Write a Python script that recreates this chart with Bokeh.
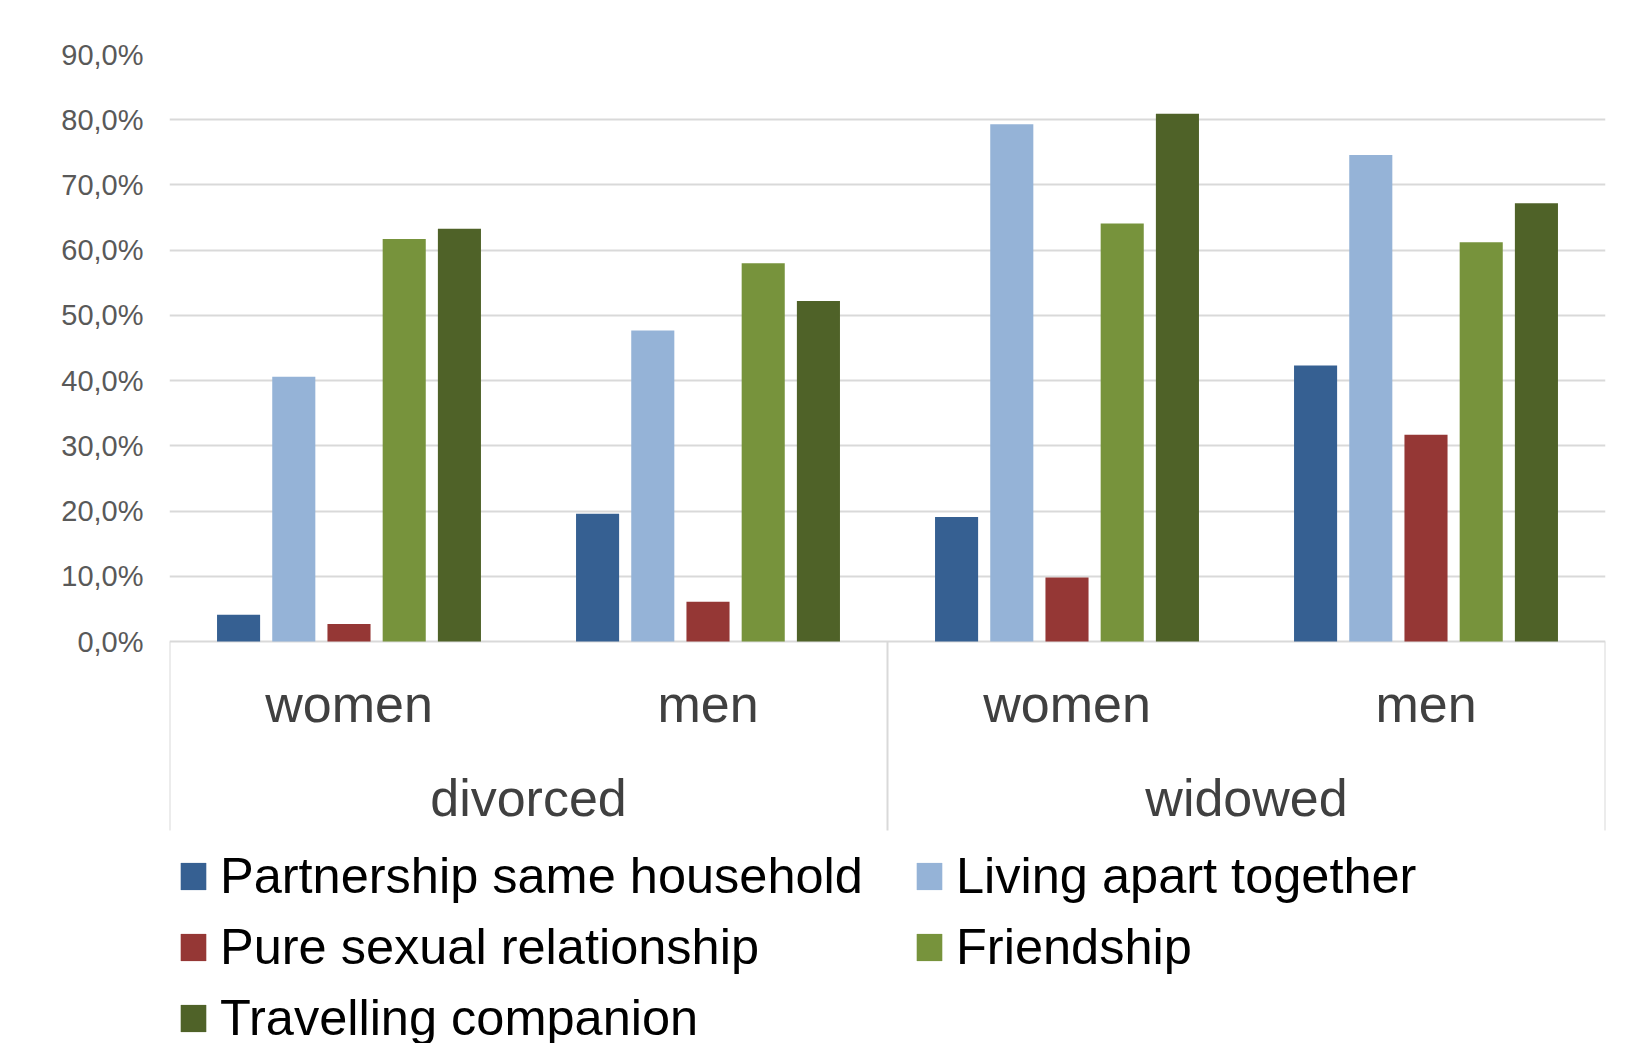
from bokeh.plotting import figure
from bokeh.models import ColumnDataSource, FactorRange, Range1d, FixedTicker, Legend, LegendItem
from bokeh.transform import dodge
from bokeh.core.properties import value
from bokeh.embed import file_html
from bokeh.resources import INLINE

# ---- data ----
groups = ["divorced", "widowed"]
subgroups = ["women", "men"]
series_names = ["Partnership same household", "Living apart together",
                "Pure sexual relationship", "Friendship", "Travelling companion"]
partnership = [4.1, 19.6, 19.1, 42.3]
living_apart = [40.6, 47.7, 79.3, 74.6]
pure_sexual = [2.7, 6.1, 9.8, 31.7]
friendship = [61.7, 58.0, 64.1, 61.2]
travelling = [63.3, 52.2, 80.9, 67.2]
yticks = [0, 10, 20, 30, 40, 50, 60, 70, 80, 90]
ytick_labels = ["0,0%", "10,0%", "20,0%", "30,0%", "40,0%", "50,0%",
                "60,0%", "70,0%", "80,0%", "90,0%"]
colors = ["#366092", "#95B3D7", "#953735", "#77933C", "#4F6228"]

# ---- layout ----
W, H = 1648, 1043
frame_left, frame_right, frame_top, zero_px = 169, 1605, 54, 641
ymax = 90
ppu = (zero_px - frame_top) / ymax
ymin = -(H - zero_px) / ppu
FONT = "Liberation Sans"

factors = [(g, s) for g in groups for s in subgroups]
x_range = FactorRange(*factors, range_padding=0, factor_padding=0, group_padding=0)

p = figure(width=W, height=H, x_range=x_range, y_range=Range1d(ymin, ymax),
           output_backend="svg", toolbar_location=None, x_axis_location=None,
           min_border_left=frame_left, min_border_right=W - frame_right,
           min_border_top=frame_top, min_border_bottom=0)
p.outline_line_color = None
p.xgrid.grid_line_color = None

ticker = FixedTicker(ticks=yticks)
p.ygrid.ticker = ticker
p.ygrid.grid_line_color = "#d9d9d9"
p.ygrid.grid_line_width = 2
p.yaxis.ticker = ticker
p.yaxis.major_label_overrides = {t: l for t, l in zip(yticks, ytick_labels)}
p.yaxis.axis_line_color = None
p.yaxis.major_tick_line_color = None
p.yaxis.minor_tick_line_color = None
p.yaxis.major_tick_in = 0
p.yaxis.major_tick_out = 0
p.yaxis.major_label_standoff = 26
p.yaxis.major_label_text_font = FONT
p.yaxis.major_label_text_font_size = "29px"
p.yaxis.major_label_text_color = "#595959"

# ---- bars ----
values = [partnership, living_apart, pure_sexual, friendship, travelling]
pitch = 0.1538
bar_w = 0.12
items = []
for i, (name, vals, col) in enumerate(zip(series_names, values, colors)):
    src = ColumnDataSource(dict(x=factors, top=vals))
    r = p.vbar(x=dodge("x", (i - 2) * pitch, range=p.x_range), top="top", bottom=0,
               width=bar_w, source=src, fill_color=col, line_color=None)
    items.append(LegendItem(label=name, renderers=[r]))

# ---- category separators ----
sep_bottom = -(830 - zero_px) / ppu
for xf, off in zip([factors[0], factors[2], factors[3]], [-0.5, -0.5, 0.5]):
    s = ColumnDataSource(dict(x=[xf]))
    p.segment(x0=dodge("x", off, range=p.x_range), x1=dodge("x", off, range=p.x_range),
              y0=0, y1=sep_bottom, source=s, line_color="#d9d9d9", line_width=2)

# ---- category labels ----
sub_y = -(703 - zero_px) / ppu
grp_y = -(797 - zero_px) / ppu
sub_src = ColumnDataSource(dict(x=factors, y=[sub_y] * len(factors),
                                t=[f[1] for f in factors]))
p.text(x="x", y="y", text="t", source=sub_src, text_font=value(FONT),
       text_font_size="52px", text_align="center", text_baseline="middle",
       text_color="#404040")
grp_src = ColumnDataSource(dict(x=groups, y=[grp_y] * len(groups), t=groups))
p.text(x="x", y="y", text="t", source=grp_src, text_font=value(FONT),
       text_font_size="52px", text_align="center", text_baseline="middle",
       text_color="#404040")

# ---- legend ----
legend = Legend(items=items, ncols=2, orientation="horizontal", location=(8, -4),
                label_text_font=FONT, label_text_font_size="50.5px", label_text_color="#000000",
                glyph_width=32, glyph_height=34, label_standoff=11, label_width=681,
                spacing=12, padding=0, margin=0, border_line_color=None,
                background_fill_alpha=0)
p.add_layout(legend)

open("out.html", "w").write(file_html(p, INLINE))
